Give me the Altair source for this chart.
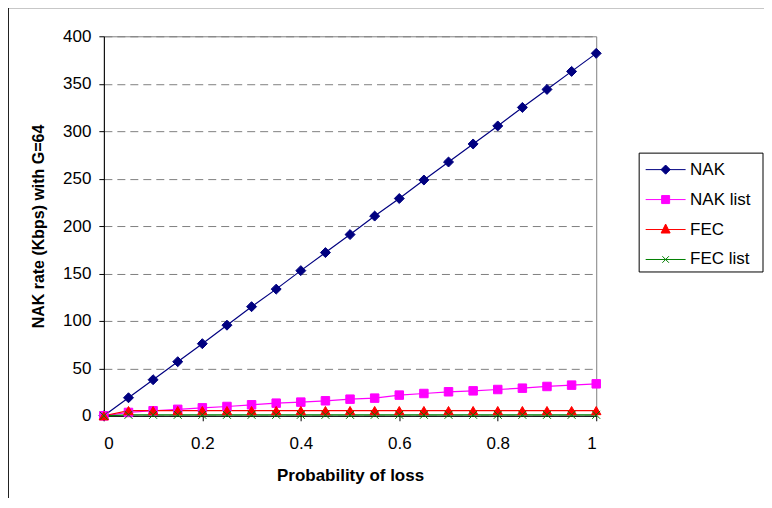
import altair as alt
import pandas as pd

prob = [0, 0.05, 0.1, 0.15, 0.2, 0.25, 0.3, 0.35, 0.4, 0.45, 0.5,
        0.55, 0.6, 0.65, 0.7, 0.75, 0.8, 0.85, 0.9, 0.95, 1.0]
nak = [0, 19, 38, 57, 76, 95.5, 115, 133.5, 153, 172, 191,
       210.5, 229, 248.5, 267.5, 286.5, 305.5, 325, 344, 363, 382]
nak_list = [0, 3.5, 5.3, 6.8, 8.4, 9.8, 11.6, 13.3, 14.4, 15.8, 17.5,
            18.6, 21.8, 23.5, 25.3, 26.3, 27.7, 29.1, 30.9, 32.3, 33.7]
fec = [0, 5.5, 5.5, 5.5, 5.5, 5.5, 5.5, 5.5, 5.5, 5.5, 5.5,
       5.5, 5.5, 5.5, 5.5, 5.5, 5.5, 5.5, 5.5, 5.5, 5.5]
fec_list = [0, 1, 1, 1, 1, 1, 1, 1, 1, 1, 1,
            1, 1, 1, 1, 1, 1, 1, 1, 1, 1]

series_names = ["NAK", "NAK list", "FEC", "FEC list"]
series_colors = ["#000080", "#FF00FF", "#FF0000", "#008000"]
series_shapes = ["diamond", "square", "triangle-up", "M-1,-1L1,1M-1,1L1,-1"]
series_sizes = [100, 72, 90, 64]
legend_paths = [
    "M-2,0H2M0,-0.46L0.46,0L0,0.46L-0.46,0Z",
    "M-2,0H2M-0.4,-0.4H0.4V0.4H-0.4Z",
    "M-2,0H2M0,-0.55L0.45,0.35H-0.45Z",
    "M-2,0H2M-0.33,-0.33L0.33,0.33M-0.33,0.33L0.33,-0.33",
]
y_ticks = [0, 50, 100, 150, 200, 250, 300, 350, 400]
x_ticks = [0, 0.2, 0.4, 0.6, 0.8, 1.0]

rows = []
for name, vals in zip(series_names, [nak, nak_list, fec, fec_list]):
    for p, v in zip(prob, vals):
        rows.append({"p": p, "rate": v, "series": name})
df = pd.DataFrame(rows)

FONT = "Liberation Sans"

legend = alt.Legend(
    orient="none", legendX=552, legendY=123,
    symbolSize=400, labelOffset=14, rowPadding=11, padding=0,
    labelFont=FONT, labelFontSize=17, labelColor="black",
    symbolStrokeWidth=1, symbolOpacity=1,
)

color_scale = alt.Scale(domain=series_names, range=series_colors)

x_enc = alt.X("p:Q", title="Probability of loss",
              scale=alt.Scale(domain=[0, 1], nice=False),
              axis=alt.Axis(values=x_ticks, format=".1~f", grid=False,
                            labelPadding=15, titlePadding=16, tickSize=5,
                            labelFontSize=17, titleFontSize=17))
y_enc = alt.Y("rate:Q", title="NAK rate (Kbps) with G=64",
              scale=alt.Scale(domain=[0, 400], nice=False),
              axis=alt.Axis(values=y_ticks, grid=True, labelPadding=8,
                            titlePadding=16, tickSize=5,
                            labelFontSize=17, titleFontSize=16))

base = alt.Chart(df)

lines = base.mark_line(strokeWidth=1.2).encode(
    x=x_enc, y=y_enc,
    color=alt.Color("series:N", scale=color_scale, title=None, legend=legend),
    detail="series:N",
)

point_layers = []
for name, col, shp, sz in zip(series_names, series_colors, series_shapes, series_sizes):
    point_layers.append(
        base.transform_filter(alt.datum.series == name).mark_point(
            filled=True, shape=shp, size=sz, color=col, fill=col, stroke=col,
            strokeWidth=1, opacity=1,
        ).encode(x="p:Q", y="rate:Q")
    )

legend_layer = base.transform_filter("false").mark_point(
    filled=True, opacity=1, strokeWidth=1
).encode(
    x="p:Q", y="rate:Q",
    color=alt.Color("series:N", scale=color_scale, title=None, legend=legend),
    stroke=alt.Stroke("series:N", scale=alt.Scale(domain=series_names, range=series_colors),
                      title=None, legend=legend),
    shape=alt.Shape("series:N", scale=alt.Scale(domain=series_names, range=legend_paths),
                    title=None, legend=legend),
)

frame_df = pd.DataFrame({"k": [0]})
outer = alt.Chart(frame_df).mark_rect(fill=None, stroke="#222222", strokeWidth=2).encode(
    x=alt.value(-96), x2=alt.value(720), y=alt.value(-29), y2=alt.value(600)
)
legend_box = alt.Chart(frame_df).mark_rect(fill=None, stroke="black", strokeWidth=1).encode(
    x=alt.value(536), x2=alt.value(660), y=alt.value(117), y2=alt.value(236)
)

chart = alt.layer(outer, lines, *point_layers, legend_layer, legend_box).properties(
    width=493, height=380,
    autosize=alt.AutoSizeParams(type="none"),
    padding={"left": 96, "top": 28, "right": 168, "bottom": 82},
    background="white",
).configure_view(
    stroke="#808080", strokeWidth=1
).configure_axis(
    labelFont=FONT, labelColor="black",
    titleFont=FONT, titleFontWeight="bold", titleColor="black",
    domainColor="black", domainWidth=1, tickColor="black", tickWidth=1,
    gridColor="#808080", gridDash=[8, 5], gridWidth=1,
)

chart.save("out.html", embed_options={"renderer": "svg", "actions": False})
